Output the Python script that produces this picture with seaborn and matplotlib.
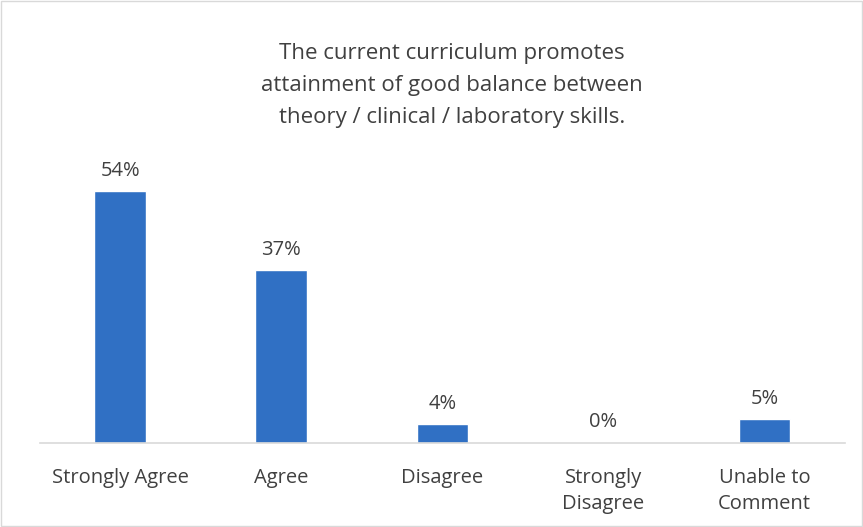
import pandas as pd
import seaborn as sns
import matplotlib.pyplot as plt

categories = ['Strongly Agree', 'Agree', 'Disagree', 'Strongly\nDisagree', 'Unable to\nComment']
percent = [54, 37, 4, 0, 5]
title = 'The current curriculum promotes\nattainment of good balance between\ntheory / clinical / laboratory skills.'

df = pd.DataFrame({'category': categories, 'percent': percent})

sns.set_style('white')
plt.rcParams['font.family'] = ['Open Sans', 'DejaVu Sans']

fig = plt.figure(figsize=(8.63, 5.27), dpi=100)
ax = fig.add_axes([0.046, 0.16, 0.933, 0.53])

sns.barplot(data=df, x='category', y='percent', color='#3070C4', width=0.32,
            saturation=1, ax=ax)

for i, v in enumerate(percent):
    ax.text(i, v + 2.2, f'{v}%', ha='center', va='bottom', fontsize=14.5, color='#404040')

ax.set_ylim(0, 60)
ax.set_xlim(-0.5, 4.5)
ax.set_yticks([])
ax.set_xlabel('')
ax.set_ylabel('')
ax.tick_params(axis='x', length=0, labelsize=14.5, labelcolor='#404040', pad=18)
for lbl in ax.get_xticklabels():
    lbl.set_linespacing(1.45)
for s in ['top', 'right', 'left']:
    ax.spines[s].set_visible(False)
ax.spines['bottom'].set_color('#D9D9D9')
ax.spines['bottom'].set_linewidth(1.2)

fig.text(0.524, 0.918, title, ha='center', va='top', fontsize=16, color='#404040',
         linespacing=1.68)

fig.patches.append(plt.Rectangle((0.001, 0.001), 0.998, 0.998, transform=fig.transFigure,
                                 fill=False, edgecolor='#D9D9D9', linewidth=1))

fig.savefig('out.png', dpi=100)
